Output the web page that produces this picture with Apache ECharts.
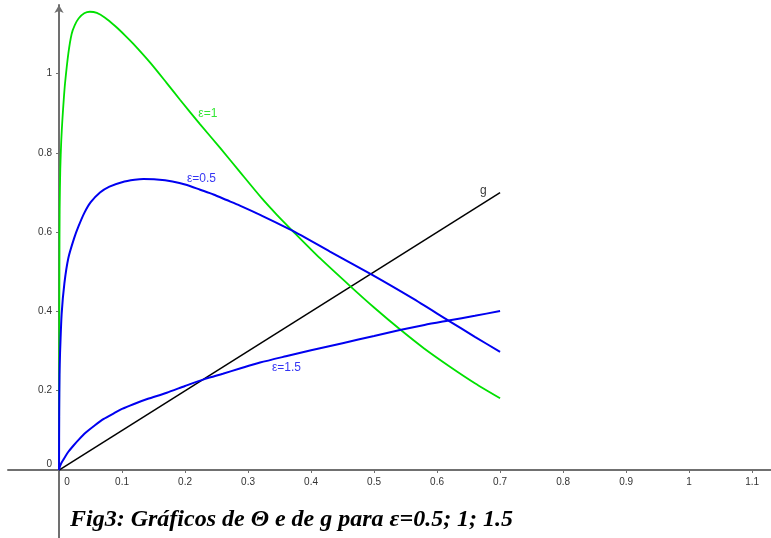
<!DOCTYPE html>
<html>
<head>
<meta charset="utf-8">
<script src="https://cdn.jsdelivr.net/npm/echarts@6/dist/echarts.min.js"></script>
<style>
  html, body { margin: 0; padding: 0; background: #fff; }
  #chart { width: 771px; height: 538px; }
</style>
</head>
<body>
<div id="chart"></div>
<script>
// 数据
const xTicks = [0, 0.1, 0.2, 0.3, 0.4, 0.5, 0.6, 0.7, 0.8, 0.9, 1, 1.1];
const yTicks = [0, 0.2, 0.4, 0.6, 0.8, 1];

const thetaEps1 = [
  [0, 0], [0.0003, 0.25], [0.0006, 0.5], [0.001, 0.66], [0.002, 0.76], [0.0035, 0.83],
  [0.0053, 0.883], [0.0075, 0.935], [0.0095, 0.975], [0.0148, 1.051], [0.02, 1.1],
  [0.025, 1.122], [0.031, 1.139], [0.04, 1.152], [0.049, 1.156], [0.06, 1.153],
  [0.073, 1.141], [0.089, 1.12], [0.105, 1.096], [0.118, 1.075], [0.145, 1.027],
  [0.171, 0.976], [0.192, 0.934], [0.224, 0.872], [0.256, 0.812], [0.287, 0.752],
  [0.322, 0.685], [0.345, 0.645], [0.369, 0.606], [0.415, 0.533], [0.462, 0.464],
  [0.5, 0.41], [0.541, 0.355], [0.58, 0.306], [0.621, 0.26], [0.66, 0.219], [0.7, 0.181]
];
const thetaEps05 = [
  [0, 0], [0.0003, 0.15], [0.0008, 0.24], [0.0016, 0.294], [0.0042, 0.395], [0.0085, 0.471],
  [0.0148, 0.535], [0.024, 0.585], [0.031, 0.615], [0.04, 0.648], [0.05, 0.675],
  [0.065, 0.7], [0.08, 0.715], [0.1, 0.726], [0.12, 0.732], [0.134, 0.734],
  [0.155, 0.733], [0.18, 0.728], [0.203, 0.719], [0.224, 0.707], [0.245, 0.695],
  [0.266, 0.681], [0.287, 0.667], [0.32, 0.643], [0.369, 0.605], [0.43, 0.551],
  [0.495, 0.494], [0.56, 0.434], [0.618, 0.377], [0.66, 0.336], [0.7, 0.298]
];
const thetaEps15 = [
  [0, 0], [0.0004, 0.004], [0.0016, 0.01], [0.0035, 0.017], [0.0068, 0.026], [0.0148, 0.046],
  [0.022, 0.06], [0.031, 0.076], [0.043, 0.095], [0.057, 0.113], [0.071, 0.129],
  [0.087, 0.143], [0.1, 0.154], [0.118, 0.166], [0.14, 0.179], [0.171, 0.195],
  [0.2, 0.212], [0.232, 0.23], [0.26, 0.243], [0.287, 0.256], [0.319, 0.271],
  [0.36, 0.287], [0.4, 0.302], [0.45, 0.32], [0.5, 0.338], [0.541, 0.353],
  [0.58, 0.366], [0.618, 0.377], [0.66, 0.389], [0.7, 0.401]
];
const gLine = [[0, 0], [0.7, 0.7]];

// curve labels: text and anchor (left edge) in data units
const labelTexts = ['ε=1', 'ε=0.5', 'ε=1.5', 'g'];
const labelX = [0.221, 0.203, 0.338, 0.668];
const labelY = [0.898, 0.736, 0.257, 0.704];

const captionText = 'Fig3: Gráficos de Θ e de g para ε=0.5; 1; 1.5';

// 样式
const green = '#00e000';
const blue = '#0000f0';
const black = '#000000';
const labelColors = [green, blue, blue, black];
const axisGray = '#707070';

const myChart = echarts.init(document.getElementById('chart'));

function tickFmt (v) {
  if (Math.abs(v) < 1e-9) return '{z|0}';
  return String(Math.round(v * 10) / 10);
}

const option = {
  animation: false,
  backgroundColor: '#fff',
  title: {
    text: captionText,
    left: 65,
    top: 503,
    textStyle: {
      fontFamily: 'Liberation Serif',
      fontStyle: 'italic',
      fontWeight: 'bold',
      fontSize: 24,
      color: '#000'
    }
  },
  grid: {
    left: 8, right: 0, top: 5, bottom: 0,
    containLabel: false,
    outerBoundsMode: 'none'
  },
  xAxis: {
    type: 'value',
    position: 'bottom',
    offset: -68, // 把轴移到 y=0 处
    min: -0.081,
    max: 1.13,
    axisLine: {
      show: true,
      onZero: false,
      lineStyle: { color: axisGray, width: 2 }
    },
    axisTick: {
      show: true,
      length: 3,
      customValues: xTicks,
      lineStyle: { color: axisGray, width: 1 }
    },
    axisLabel: {
      customValues: xTicks,
      margin: 7,
      fontSize: 10,
      fontFamily: 'Liberation Sans',
      color: '#333',
      formatter: tickFmt,
      rich: { z: { fontSize: 10, fontFamily: 'Liberation Sans', color: '#333', padding: [0, 0, 0, 16] } }
    },
    splitLine: { show: false }
  },
  yAxis: {
    type: 'value',
    position: 'left',
    offset: -51, // 把轴移到 x=0 处
    min: -0.1715,
    max: 1.173,
    axisLine: {
      show: true,
      onZero: false,
      symbol: ['none', 'arrow'],
      symbolSize: [7, 8],
      lineStyle: { color: axisGray, width: 2 }
    },
    axisTick: {
      show: true,
      length: 3,
      customValues: yTicks,
      lineStyle: { color: axisGray, width: 1 }
    },
    axisLabel: {
      customValues: yTicks,
      margin: 7,
      fontSize: 10,
      fontFamily: 'Liberation Sans',
      color: '#333',
      formatter: tickFmt,
      rich: { z: { fontSize: 10, fontFamily: 'Liberation Sans', color: '#333', padding: [0, 0, 12, 0] } }
    },
    splitLine: { show: false }
  },
  series: [
    {
      name: 'ε=1',
      type: 'line',
      data: thetaEps1,
      showSymbol: false,
      smooth: 0.25,
      lineStyle: { color: green, width: 1.8 },
      z: 3
    },
    {
      name: 'ε=0.5',
      type: 'line',
      data: thetaEps05,
      showSymbol: false,
      smooth: 0.25,
      lineStyle: { color: blue, width: 2 },
      z: 4
    },
    {
      name: 'ε=1.5',
      type: 'line',
      data: thetaEps15,
      showSymbol: false,
      smooth: 0.25,
      lineStyle: { color: blue, width: 2 },
      z: 4
    },
    {
      name: 'g',
      type: 'line',
      data: gLine,
      showSymbol: false,
      lineStyle: { color: black, width: 1.5 },
      z: 2
    },
    {
      name: 'labels',
      type: 'scatter',
      symbolSize: 0,
      silent: true,
      data: labelTexts.map(function (t, i) {
        return {
          value: [labelX[i], labelY[i]],
          label: {
            show: true,
            formatter: t,
            position: 'right',
            distance: 0,
            color: labelColors[i],
            fontSize: 12,
            fontFamily: 'Liberation Sans'
          }
        };
      }),
      z: 5
    }
  ]
};

myChart.setOption(option);
window.addEventListener('resize', function () {
  myChart.resize();
});
</script>
</body>
</html>
